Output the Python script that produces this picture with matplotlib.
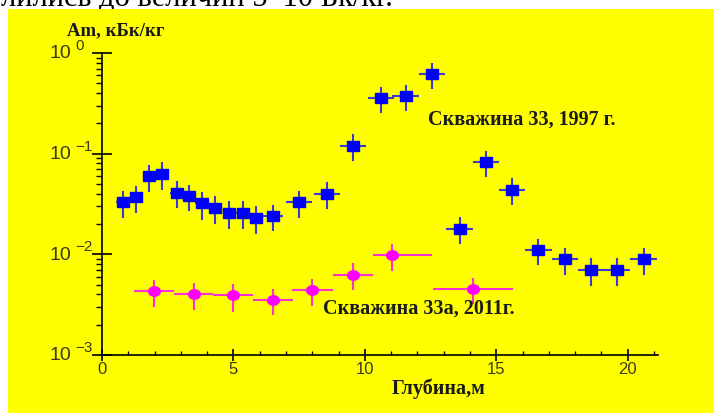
import matplotlib
matplotlib.use('Agg')
import matplotlib.pyplot as plt
from matplotlib.path import Path
from matplotlib.transforms import Affine2D, blended_transform_factory
from matplotlib.ticker import LogLocator, NullFormatter, MultipleLocator, FixedLocator

# ---- data ----
depth_1997 = [0.8, 1.3, 1.8, 2.3, 2.85, 3.3, 3.8, 4.3, 4.85, 5.35, 5.85, 6.5, 7.5,
              8.55, 9.55, 10.6, 11.55, 12.55, 13.6, 14.6, 15.6, 16.6, 17.6, 18.6, 19.6, 20.6]
am_1997 = [0.033, 0.037, 0.060, 0.063, 0.041, 0.038, 0.032, 0.029, 0.026, 0.026, 0.023,
           0.024, 0.033, 0.040, 0.120, 0.355, 0.375, 0.62, 0.018, 0.082, 0.044, 0.011,
           0.0089, 0.0070, 0.0070, 0.0089]
xerr_1997 = [0.25, 0.25, 0.25, 0.25, 0.25, 0.25, 0.25, 0.25, 0.25, 0.25, 0.25, 0.4, 0.5,
             0.5, 0.5, 0.5, 0.5, 0.5, 0.5, 0.5, 0.5, 0.5, 0.5, 0.5, 0.5, 0.5]
yerr_1997 = [0.010, 0.011, 0.018, 0.019, 0.012, 0.011, 0.010, 0.009, 0.008, 0.008, 0.007,
             0.007, 0.010, 0.012, 0.036, 0.10, 0.11, 0.18, 0.0053, 0.024, 0.013, 0.0032,
             0.0027, 0.0022, 0.0022, 0.0027]

depth_2011 = [1.96, 3.5, 5.0, 6.5, 8.0, 9.55, 11.05, 14.1]
am_2011 = [0.0043, 0.0040, 0.0039, 0.0035, 0.0044, 0.0063, 0.0098, 0.0045]
xerr_lo_2011 = [0.76, 0.78, 0.77, 0.76, 0.76, 0.76, 0.76, 1.5]
xerr_hi_2011 = [0.76, 0.73, 0.75, 0.76, 0.78, 0.76, 1.52, 1.52]
yerr_2011 = [0.0013, 0.0012, 0.0012, 0.0010, 0.0013, 0.0019, 0.0030, 0.0013]

x_major = [0, 5, 10, 15, 20]
x_labels = ['0', '5', '10', '15', '20']
y_major = [1e-3, 1e-2, 1e-1, 1e0]
y_exps = ['-3', '-2', '-1', '0']

label_1997 = 'Скважина 33, 1997 г.'
label_2011 = 'Скважина 33а, 2011г.'
x_title = 'Глубина,м'
y_title = 'Am, кБк/кг'
top_text = 'лились до величин 5–10 Бк/кг.'

# ---- figure ----
W, H = 720, 414
fig = plt.figure(figsize=(7.2, 4.14), dpi=100)
fig.patch.set_facecolor('white')
bg = fig.add_axes([8 / W, 0, (714 - 8) / W, (414 - 10) / H], zorder=-10)
bg.set_facecolor('#ffff00')
bg.set_xticks([])
bg.set_yticks([])
for s in bg.spines.values():
    s.set_visible(False)

fig.text(393 / W, 1 - 6 / H, top_text, ha='right', va='baseline',
         family='Liberation Serif', fontsize=22, color='black', zorder=-20)

ax = fig.add_axes([102 / W, 1 - 356 / H, 556 / W, 302 / H], zorder=1)
ax.set_facecolor('none')
ax.set_yscale('log')
ax.set_xlim(0, 21.15)
ax.set_ylim(1e-3, 1e0)

for s in ['top', 'right']:
    ax.spines[s].set_visible(False)
for s in ['left', 'bottom']:
    ax.spines[s].set_linewidth(1.2)
    ax.spines[s].set_color('black')

rect = [(-1.3, -1), (1.3, -1), (1.3, 1), (-1.3, 1), (-1.3, -1)]
ell = Affine2D().scale(1.25, 1.0).transform_path(Path.unit_circle())

ax.errorbar(depth_1997, am_1997, xerr=xerr_1997, yerr=yerr_1997, fmt='none',
            ecolor='#3a3ad0', elinewidth=1.5, capsize=0, zorder=3)
ax.plot(depth_1997, am_1997, linestyle='none', marker=rect, markersize=8.5,
        markerfacecolor='#0000ff', markeredgecolor='#0000ff', zorder=4)

ax.errorbar(depth_2011, am_2011, xerr=[xerr_lo_2011, xerr_hi_2011], yerr=yerr_2011,
            fmt='none', ecolor='#ff30d0', elinewidth=1.5, capsize=0, zorder=3)
ax.plot(depth_2011, am_2011, linestyle='none', marker=ell, markersize=8.5,
        markerfacecolor='#ff00ff', markeredgecolor='#ff00ff', zorder=4)

# ticks
ax.xaxis.set_major_locator(FixedLocator(x_major))
ax.set_xticklabels(x_labels, family='Liberation Sans', fontsize=12, color='#3c3c14')
ax.xaxis.set_minor_locator(MultipleLocator(1))
ax.tick_params(axis='x', which='major', direction='inout', length=8, width=1.2, pad=0)
ax.tick_params(axis='x', which='minor', direction='in', length=3, width=1.0)

ax.yaxis.set_major_locator(FixedLocator(y_major))
ax.yaxis.set_minor_locator(LogLocator(base=10, subs=range(2, 10)))
ax.yaxis.set_major_formatter(NullFormatter())
ax.yaxis.set_minor_formatter(NullFormatter())
ax.tick_params(axis='y', which='major', direction='inout', length=14, width=1.2)
ax.tick_params(axis='y', which='minor', direction='out', length=4, width=1.0)

tr = blended_transform_factory(fig.transFigure, ax.transData)
for v, e in zip(y_major, y_exps):
    ax.text(71 / W, v, '10', transform=tr, ha='right', va='center',
            family='Liberation Sans', fontsize=14, color='#3c3c14')
    ax.text(75 / W, v * 10 ** (8 / 100.7), e.replace('-', '−'), transform=tr,
            ha='left', va='center', family='Liberation Sans', fontsize=11,
            color='#3c3c14')

serif = dict(family='Liberation Serif', fontweight='bold', color='#1a1a1a')
fig.text(427.7 / W, 1 - 120 / H, label_1997, ha='left', va='center', fontsize=14.5, **serif)
fig.text(322.7 / W, 1 - 309 / H, label_2011, ha='left', va='center', fontsize=14.5, **serif)
fig.text(438.7 / W, 1 - 389 / H, x_title, ha='center', va='center', fontsize=14.5, **serif)
fig.text(67 / W, 1 - 31 / H, y_title, ha='left', va='center', fontsize=13.5, **serif)

fig.savefig('out.png', dpi=100)
